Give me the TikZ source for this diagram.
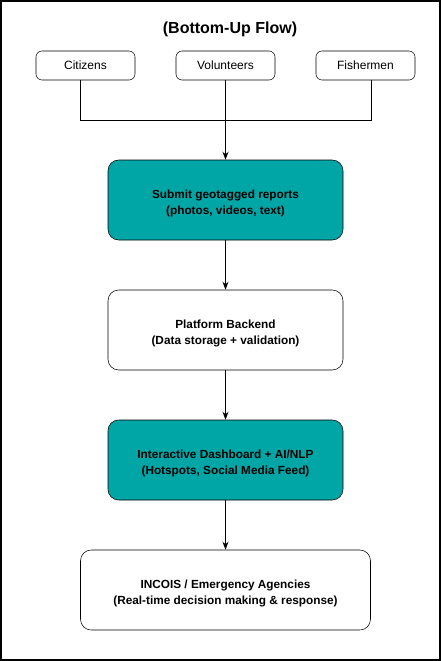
\documentclass[tikz,border=0pt]{standalone}
\usepackage{fontspec}
\setmainfont{Liberation Sans}
\usetikzlibrary{arrows.meta}
\definecolor{teal1}{RGB}{0,166,166}
\begin{document}
\begin{tikzpicture}[x=0.75pt,y=-0.75pt,
  src/.style={draw,rounded corners=4.5pt,minimum width=99*0.75pt,minimum height=29*0.75pt,font=\fontsize{9}{11}\selectfont,inner sep=0pt},
  stepbox/.style={draw,rounded corners=8pt,minimum width=235*0.75pt,minimum height=80*0.75pt,inner sep=0pt},
  txt/.style={align=center,font=\bfseries\fontsize{8.85}{12.4}\selectfont,inner sep=0pt,yshift=-2.6pt},
  arr/.style={-{Stealth[length=6pt,width=4.5pt]},line width=0.6pt},
  ln/.style={line width=0.6pt}]
\useasboundingbox (0,0) rectangle (441,661);
\draw[line width=1.1pt] (1,1) rectangle (440,660);
\node[font=\bfseries\fontsize{12}{14}\selectfont] (title) at (230,29) {(Bottom-Up Flow)};
\node[src] (cit) at (85.5,65.5) {Citizens};
\node[src] (vol) at (225.5,65.5) {Volunteers};
\node[src] (fish) at (365.5,65.5) {Fishermen};
\node[stepbox,fill=teal1,label={[txt]center:{Submit geotagged reports\\(photos, videos, text)}}] (sub) at (225.5,200) {};
\node[stepbox,label={[txt]center:{Platform Backend\\(Data storage + validation)}}] (plat) at (225.5,330) {};
\node[stepbox,fill=teal1,label={[txt]center:{Interactive Dashboard + AI/NLP\\(Hotspots, Social Media Feed)}}] (dash) at (225.5,460) {};
\node[stepbox,minimum width=290*0.75pt,label={[txt]center:{INCOIS / Emergency Agencies\\(Real-time decision making \& response)}}] (inc) at (225.5,590) {};
\coordinate (jl) at (80,120);
\coordinate (jr) at (371,120);
\draw[ln] (cit.south -| jl) -- (jl) -- (jr) -- (fish.south -| jr);
\draw[arr] (vol.south) -- (sub.north);
\draw[arr] (sub.south) -- (plat.north);
\draw[arr] (plat.south) -- (dash.north);
\draw[arr] (dash.south) -- (inc.north);
\end{tikzpicture}
\end{document}
